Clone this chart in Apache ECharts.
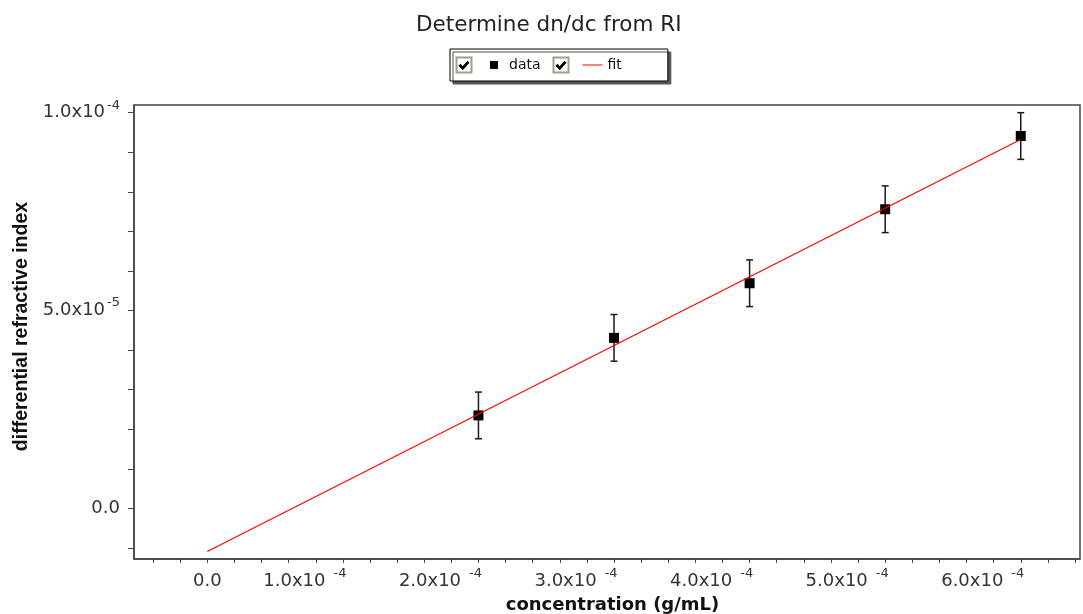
<!DOCTYPE html>
<html>
<head>
<meta charset="utf-8">
<title>Determine dn/dc from RI</title>
<script src="https://cdn.jsdelivr.net/npm/echarts@6/dist/echarts.min.js"></script>
<style>
  html, body { margin: 0; padding: 0; background: #fff; }
  #chart { width: 1083px; height: 614px; }
</style>
</head>
<body>
<div id="chart"></div>
<script>
// measured points (g/mL -> dn) with their error
var concentration = [2.0e-4, 3.0e-4, 4.0e-4, 5.0e-4, 6.0e-4];
var dnValues = [2.35e-5, 4.31e-5, 5.69e-5, 7.56e-5, 9.41e-5];
var dnErrors = [5.9e-6, 5.9e-6, 5.9e-6, 5.9e-6, 5.9e-6];

// linear fit, from its two end points
var fitX = [0, 6.0e-4];
var fitY = [-1.087e-5, 9.32e-5];

// axis ticks and labels
var xTickValues = [-0.4e-4, -0.2e-4, 0, 0.2e-4, 0.4e-4, 0.6e-4, 0.8e-4,
  1.0e-4, 1.2e-4, 1.4e-4, 1.6e-4, 1.8e-4, 2.0e-4, 2.2e-4, 2.4e-4, 2.6e-4, 2.8e-4,
  3.0e-4, 3.2e-4, 3.4e-4, 3.6e-4, 3.8e-4, 4.0e-4, 4.2e-4, 4.4e-4, 4.6e-4, 4.8e-4,
  5.0e-4, 5.2e-4, 5.4e-4, 5.6e-4, 5.8e-4, 6.0e-4, 6.2e-4, 6.4e-4];
var xLabelValues = [0, 1.0e-4, 2.0e-4, 3.0e-4, 4.0e-4, 5.0e-4, 6.0e-4];
var xLabelMantissa = ['0.0', '1.0x10', '2.0x10', '3.0x10', '4.0x10', '5.0x10', '6.0x10'];
var xLabelExponent = ['', '-4', '-4', '-4', '-4', '-4', '-4'];

var yTickValues = [-1e-5, 0, 1e-5, 2e-5, 3e-5, 4e-5, 5e-5, 6e-5, 7e-5, 8e-5, 9e-5, 1e-4];
var yLabelValues = [0, 5e-5, 1e-4];
var yLabelMantissa = ['0.0', '5.0x10', '1.0x10'];
var yLabelExponent = ['', '-5', '-4'];

var axisColor = '#444';
var labelFont = 'DejaVu Sans';

function findLabel(values, v) {
  for (var i = 0; i < values.length; i++) {
    if (Math.abs(values[i] - v) < 1e-9) return i;
  }
  return -1;
}

function xLabel(v) {
  var i = findLabel(xLabelValues, v);
  if (i < 0) return '';
  if (!xLabelExponent[i]) return '{b|' + xLabelMantissa[i] + '}';
  // the exponent ends just right of the tick, like the original plot
  return '{b|' + xLabelMantissa[i] + '}{g|}{s|' + xLabelExponent[i] + '}{p|}';
}

function yLabel(v) {
  var i = findLabel(yLabelValues, v);
  if (i < 0) return '';
  if (!yLabelExponent[i]) return '{b|' + yLabelMantissa[i] + '}';
  return '{b|' + yLabelMantissa[i] + '}{h|}{s|' + yLabelExponent[i] + '}';
}

var richLabel = {
  b: {fontFamily: labelFont, fontSize: 18, color: '#333', lineHeight: 28},
  s: {fontFamily: labelFont, fontSize: 13, color: '#333', lineHeight: 4, verticalAlign: 'top'},
  g: {width: 8},
  h: {width: 2},
  p: {width: 76}
};

// the little "visible" tick boxes of the legend
function checkBox(x, y) {
  return {
    type: 'group', x: x, y: y,
    children: [
      {type: 'rect', z: 100, shape: {x: 0, y: 0, width: 15, height: 15},
        style: {fill: '#fff', stroke: '#a09f8c', lineWidth: 2}},
      {type: 'polyline', z: 101, shape: {points: [[3, 7.2], [6.2, 10.6], [12, 4.2]]},
        style: {stroke: '#000', lineWidth: 2.8, fill: null}}
    ]
  };
}

var chart = echarts.init(document.getElementById('chart'));

var option = {
  animation: false,
  backgroundColor: '#fff',
  title: {
    text: 'Determine dn/dc from RI',
    left: 416,
    top: 14,
    padding: 0,
    textStyle: {fontFamily: labelFont, fontSize: 21.5, fontWeight: 'normal', color: '#222'}
  },
  legend: {
    left: 450,
    top: 49,
    padding: [9, 46, 9, 40],
    itemWidth: 20,
    itemHeight: 8,
    itemGap: 42,
    itemTextGap: 6,
    backgroundColor: '#fff',
    borderColor: '#000',
    borderWidth: 1,
    borderRadius: 0,
    shadowColor: '#555',
    shadowOffsetX: 3,
    shadowOffsetY: 3,
    shadowBlur: 0,
    textStyle: {fontFamily: labelFont, fontSize: 14, color: '#111'},
    data: [
      {name: 'data', icon: 'path://M0 0H10V10H0Z', itemStyle: {color: '#000'}},
      {name: 'fit', icon: 'path://M0 0H20V1H0Z', itemStyle: {color: '#ff0000'}}
    ]
  },
  graphic: [checkBox(456.5, 57.5), checkBox(553.5, 57.5)],
  grid: {
    left: 134,
    right: 3,
    top: 105,
    bottom: 55,
    show: true,
    borderColor: axisColor,
    borderWidth: 1.5,
    outerBoundsMode: 'none'
  },
  xAxis: {
    type: 'value',
    min: -0.5407e-4,
    max: 6.437e-4,
    name: 'concentration (g/mL)',
    nameLocation: 'middle',
    nameGap: 37,
    nameTextStyle: {fontFamily: labelFont, fontSize: 18, fontWeight: 'bold', color: '#111', padding: [0, 0, 0, 11]},
    splitLine: {show: false},
    axisLine: {show: true, onZero: false, lineStyle: {color: axisColor, width: 1.5}},
    axisTick: {show: true, length: 4, customValues: xTickValues, lineStyle: {color: axisColor}},
    axisLabel: {customValues: xLabelValues, margin: 8, formatter: xLabel, rich: richLabel}
  },
  yAxis: {
    type: 'value',
    min: -1.278e-5,
    max: 1.0194e-4,
    name: 'differential refractive index',
    nameLocation: 'middle',
    nameGap: 102,
    nameTextStyle: {fontFamily: 'Liberation Sans', fontSize: 19.5, fontWeight: 'bold', color: '#111', padding: [0, 0, 0, 11]},
    splitLine: {show: false},
    axisLine: {show: true, onZero: false, lineStyle: {color: axisColor, width: 1.5}},
    axisTick: {show: true, length: 6, customValues: yTickValues, lineStyle: {color: axisColor}},
    axisLabel: {customValues: yLabelValues, margin: 14, formatter: yLabel, rich: richLabel}
  },
  series: [
    {
      name: 'data',
      type: 'scatter',
      symbol: 'rect',
      symbolSize: 10,
      itemStyle: {color: '#000', opacity: 1},
      z: 3,
      data: concentration.map(function (c, i) { return [c, dnValues[i]]; })
    },
    {
      name: 'data',
      type: 'custom',
      z: 2,
      encode: {x: 0, y: [1, 2]},
      renderItem: function (params, api) {
        var top = api.coord([api.value(0), api.value(2)]);
        var bot = api.coord([api.value(0), api.value(1)]);
        var hw = 3.5;
        var st = {stroke: '#1a1a1a', lineWidth: 1.5};
        return {
          type: 'group',
          children: [
            {type: 'line', shape: {x1: top[0], y1: top[1], x2: bot[0], y2: bot[1]}, style: st},
            {type: 'line', shape: {x1: top[0] - hw, y1: top[1], x2: top[0] + hw, y2: top[1]}, style: st},
            {type: 'line', shape: {x1: bot[0] - hw, y1: bot[1], x2: bot[0] + hw, y2: bot[1]}, style: st}
          ]
        };
      },
      data: concentration.map(function (c, i) {
        return [c, dnValues[i] - dnErrors[i], dnValues[i] + dnErrors[i]];
      })
    },
    {
      name: 'fit',
      type: 'line',
      symbol: 'none',
      showSymbol: false,
      z: 4,
      lineStyle: {color: '#ff0000', width: 1.2},
      itemStyle: {color: '#ff0000'},
      data: fitX.map(function (x, i) { return [x, fitY[i]]; })
    }
  ]
};

chart.setOption(option);
window.addEventListener('resize', chart.resize);
</script>
</body>
</html>
